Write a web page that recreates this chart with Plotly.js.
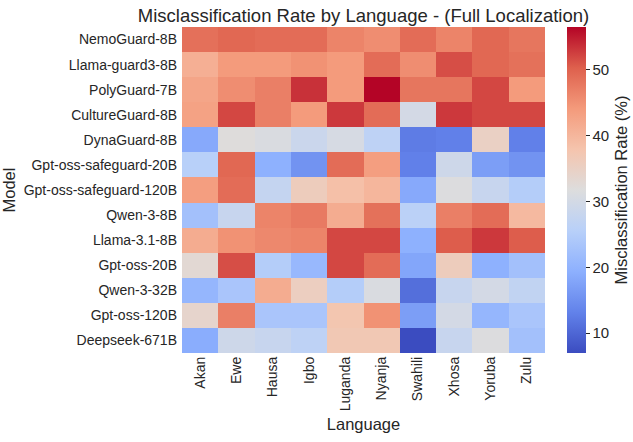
<!DOCTYPE html>
<html>
<head>
<meta charset="utf-8">
<script src="https://cdn.plot.ly/plotly-3.0.1.min.js"></script>
<style>html,body{margin:0;padding:0;background:#fff;}#chart{width:633px;height:442px;}</style>
</head>
<body>
<div id="chart"></div>
<script>
const models = ["NemoGuard-8B","Llama-guard3-8B","PolyGuard-7B","CultureGuard-8B","DynaGuard-8B","Gpt-oss-safeguard-20B","Gpt-oss-safeguard-120B","Qwen-3-8B","Llama-3.1-8B","Gpt-oss-20B","Qwen-3-32B","Gpt-oss-120B","Deepseek-671B"];
const languages = ["Akan","Ewe","Hausa","Igbo","Luganda","Nyanja","Swahili","Xhosa","Yoruba","Zulu"];
const nemoGuard = [48.6,49.5,49,49,46.5,45.5,49,46.5,49.5,48];
const llamaGuard3 = [41,44,44,45,44,49,45.5,51.5,49.5,48.5];
const polyGuard = [42.5,45.5,47,53.5,44,56.5,48,48,52,44];
const cultureGuard = [43,52,47,44,53,49,30,53,52,52];
const dynaGuard = [18.5,32,31,28.5,30.5,26.5,12.5,13,35,13];
const gptSafeguard20 = [25.5,49.5,19.5,15.5,49,43.5,13,29,17,15.5];
const gptSafeguard120 = [43.5,49,27.5,36,38.5,40,18.5,31.5,28,25];
const qwen3_8 = [22.5,28,46.5,47.5,41.5,48.5,26,47,49,39.5];
const llama31 = [41.5,45,46,46.5,52,52,19.5,50.5,53,50.5];
const gptOss20 = [33,51.5,25,21,52,49,18,36,19.5,22.5];
const qwen3_32 = [20.5,23.5,41.5,35.5,25,31,11,28,30,27];
const gptOss120 = [34,47,23.5,23.5,37.5,45,17,30,20.5,23.5];
const deepseek = [19,29,28,26.5,37,37,7,28,31.5,22.5];
const zValues = [nemoGuard,llamaGuard3,polyGuard,cultureGuard,dynaGuard,gptSafeguard20,gptSafeguard120,qwen3_8,llama31,gptOss20,qwen3_32,gptOss120,deepseek];
const colorbarTicks = [10,20,30,40,50];

const coolwarm = [
  [0.0,"rgb(59,76,192)"],[0.125,"rgb(98,130,234)"],[0.25,"rgb(141,176,254)"],
  [0.375,"rgb(184,208,249)"],[0.5,"rgb(221,221,221)"],[0.625,"rgb(245,196,173)"],
  [0.75,"rgb(244,154,123)"],[0.875,"rgb(222,96,77)"],[1.0,"rgb(180,4,38)"]
];
const txt = "#262626";
const font = "Liberation Sans, Arial, sans-serif";

Plotly.newPlot("chart", [{
  type: "heatmap",
  x: languages, y: models, z: zValues,
  colorscale: coolwarm, zmin: 7, zmax: 56.5,
  xgap: 0, ygap: 0,
  colorbar: {
    x: 567/633, xanchor: "left", xref: "container",
    y: 0.5, yanchor: "middle", len: 1, lenmode: "fraction",
    thickness: 19, outlinewidth: 0, xpad: 0, ypad: 0,
    tickvals: colorbarTicks, ticks: "outside", ticklen: 4, tickcolor: txt,
    tickfont: {family: font, size: 15, color: txt},
    title: {text: "Misclassification Rate (%)", side: "right", font: {family: font, size: 16.5, color: txt}}
  }
}], {
  width: 633, height: 442,
  margin: {l: 182, r: 88, t: 27, b: 89, autoexpand: false},
  paper_bgcolor: "#fff", plot_bgcolor: "#fff",
  font: {family: font, color: txt},
  title: {text: "Misclassification Rate by Language - (Full Localization)", x: 0.5, xref: "paper", xanchor: "center", y: 0.966, yref: "container", yanchor: "middle", font: {family: font, size: 18.5, color: txt}},
  xaxis: {tickangle: -90, tickfont: {family: font, size: 14, color: txt}, ticks: "", showgrid: false, zeroline: false, showline: false,
          title: {text: "Language", font: {family: font, size: 16.5, color: txt}, standoff: 8}},
  yaxis: {autorange: "reversed", tickfont: {family: font, size: 14, color: txt}, ticks: "", showgrid: false, zeroline: false, showline: false, ticklabelstandoff: 4,
          title: {text: "Model", font: {family: font, size: 16.5, color: txt}, standoff: 8}}
}, {displayModeBar: false, staticPlot: true});
</script>
</body>
</html>
